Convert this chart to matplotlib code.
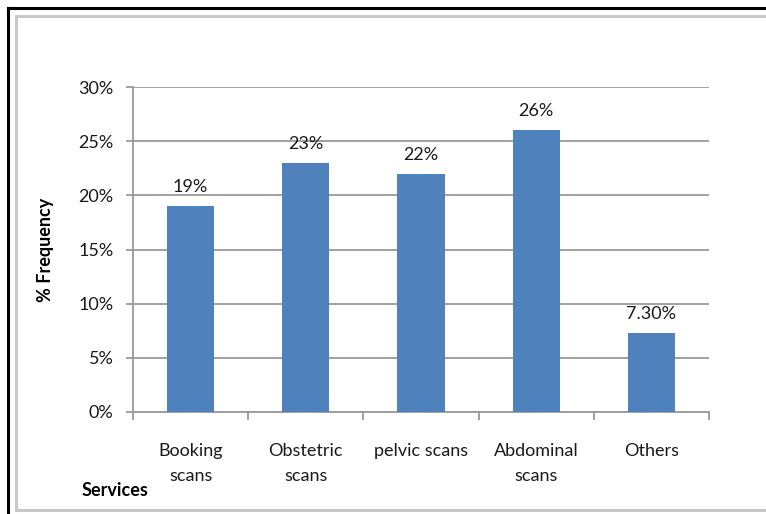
import matplotlib
matplotlib.use("Agg")
import matplotlib.pyplot as plt
from matplotlib.lines import Line2D
from matplotlib.ticker import FixedLocator, PercentFormatter

categories = ["Booking\nscans", "Obstetric\nscans", "pelvic scans", "Abdominal\nscans", "Others"]
values = [19, 23, 22, 26, 7.3]
value_labels = ["19%", "23%", "22%", "26%", "7.30%"]
y_ticks = [0, 5, 10, 15, 20, 25, 30]

plt.rcParams["font.family"] = ["Lato", "DejaVu Sans"]
FS = 13

W, H = 766, 514
fig = plt.figure(figsize=(W / 100, H / 100), dpi=100)

# outer frame lines
fig.add_artist(Line2D([8 / W, 8 / W], [0, 1 - 8 / H], color="black", lw=2.2, transform=fig.transFigure))
fig.add_artist(Line2D([8 / W, 1], [1 - 8 / H, 1 - 8 / H], color="black", lw=2.2, transform=fig.transFigure))
grey = "#c8c8c8"
fig.add_artist(Line2D([16 / W, 16 / W], [1 - 510 / H, 1 - 16 / H], color=grey, lw=2.2, transform=fig.transFigure))
fig.add_artist(Line2D([16 / W, 1], [1 - 16 / H, 1 - 16 / H], color=grey, lw=2.2, transform=fig.transFigure))
fig.add_artist(Line2D([16 / W, 1], [1 - 510 / H, 1 - 510 / H], color=grey, lw=2.2, transform=fig.transFigure))

left, right, top, bottom = 133, 709, 87, 412
ax = fig.add_axes([left / W, 1 - bottom / H, (right - left) / W, (bottom - top) / H])

x = list(range(len(categories)))
ax.bar(x, values, width=0.41, color="#4F81BD", zorder=3)
for xi, v, lab in zip(x, values, value_labels):
    ax.annotate(lab, (xi, v), xytext=(0, 8), textcoords="offset points",
                ha="center", va="bottom", fontsize=FS, color="#1a1a1a")

ax.set_xlim(-0.5, len(categories) - 0.5)
ax.set_ylim(0, 30)
ax.set_yticks(y_ticks)
ax.yaxis.set_major_formatter(PercentFormatter(decimals=0))
ax.yaxis.grid(True, color="#9a9a9a", lw=1.3, zorder=0)
ax.set_axisbelow(True)

ax.set_xticks(x)
ax.set_xticklabels(categories, fontsize=FS, color="#1a1a1a", linespacing=1.75)
ax.xaxis.set_minor_locator(FixedLocator([i - 0.5 for i in range(len(categories) + 1)]))
ax.tick_params(axis="x", which="major", length=0, pad=22)
ax.tick_params(axis="x", which="minor", length=6, color="#9a9a9a", width=1.3)
ax.tick_params(axis="y", length=5, color="#9a9a9a", width=1.3, pad=9, labelsize=FS, labelcolor="#1a1a1a")

for s in ["top", "right"]:
    ax.spines[s].set_visible(False)
for s in ["left", "bottom"]:
    ax.spines[s].set_color("#9a9a9a")
    ax.spines[s].set_linewidth(1.3)

fig.text(45 / W, 1 - 250 / H, "% Frequency", rotation=90, ha="center", va="center",
         fontsize=FS, fontweight="bold")
fig.text(82 / W, 1 - 490 / H, "Services", ha="left", va="center", fontsize=FS, fontweight="bold")

fig.savefig("out.png", dpi=100, facecolor="white")
